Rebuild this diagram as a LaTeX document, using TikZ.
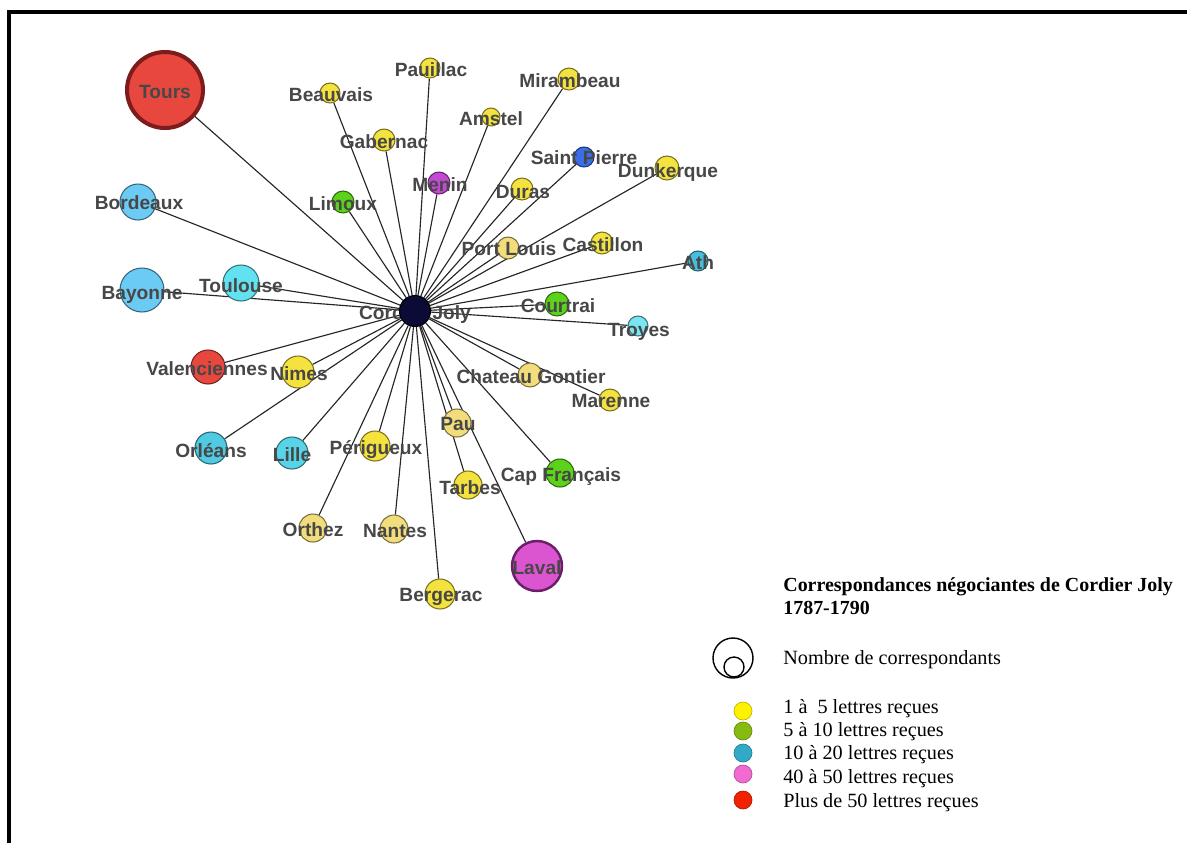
\documentclass[tikz,border=0pt]{standalone}
\usepackage{fontspec}
\setmainfont{Liberation Serif}
\setsansfont{Liberation Sans}
\usetikzlibrary{backgrounds}
\definecolor{cjnavy}{HTML}{0B0B35}
\definecolor{cjyellow}{HTML}{F4E23E}
\definecolor{cjpale}{HTML}{F2DD7C}
\definecolor{cjgreen}{HTML}{5CD21A}
\definecolor{cjblue}{HTML}{3A6EE8}
\definecolor{cjpurple}{HTML}{C24AD2}
\definecolor{cjsky}{HTML}{6CCBF5}
\definecolor{cjcyan}{HTML}{62E2F0}
\definecolor{cjteal}{HTML}{48BEDC}
\definecolor{cjred}{HTML}{E8473E}
\definecolor{cjredline}{HTML}{7C1C1C}
\definecolor{cjmagenta}{HTML}{DC55D0}
\definecolor{cjmagline}{HTML}{6A1F66}
\definecolor{legyellow}{HTML}{FFF200}
\definecolor{leggreen}{HTML}{88BB11}
\definecolor{legteal}{HTML}{33A9C8}
\definecolor{legpink}{HTML}{F06AD0}
\definecolor{legred}{HTML}{F02200}
\tikzset{
  town/.style={circle,draw=#1!50!black,fill=#1,line width=0.6pt,inner sep=0pt},
  townlbl/.style={font=\sffamily\bfseries\fontsize{10.9}{12}\selectfont,text=black!72,inner sep=0pt},
  link/.style={draw=black!85,line width=0.65pt},
  legtxt/.style={font=\fontsize{11.5}{13}\selectfont,anchor=west,inner sep=0pt,align=left},
  legdot/.style={circle,fill=#1,draw=#1!75!black,line width=0.4pt,minimum size=3.6mm,inner sep=0pt},
}

\begin{document}
\begin{tikzpicture}[x=0.02cm,y=-0.02cm]
  \useasboundingbox (0,0) rectangle (1187,843);
  \draw[line width=1.8pt] (9,843) -- (9,12) -- (1187,12);

  % correspondents
  \node[town=cjred,draw=cjredline,line width=2.3pt,minimum size=15.2mm] (tours) at (165,90) {};
  \node[town=cjyellow,minimum size=4mm]   (beauvais)   at (330,93)  {};
  \node[town=cjyellow,minimum size=4mm]   (pauillac)   at (430,68)  {};
  \node[town=cjyellow,minimum size=4.4mm] (mirambeau)  at (569,79)  {};
  \node[town=cjyellow,minimum size=3.6mm] (amstel)     at (491,117) {};
  \node[town=cjyellow,minimum size=4.4mm] (gabernac)   at (384,140) {};
  \node[town=cjblue,minimum size=4mm]     (stpierre)   at (584,157) {};
  \node[town=cjyellow,minimum size=4.8mm] (dunkerque)  at (667,168) {};
  \node[town=cjpurple,minimum size=4.4mm] (menin)      at (439,183) {};
  \node[town=cjgreen,minimum size=4.4mm]  (limoux)     at (343,202) {};
  \node[town=cjyellow,minimum size=4.4mm] (duras)      at (522,189) {};
  \node[town=cjsky,minimum size=7.2mm]    (bordeaux)   at (138,202) {};
  \node[town=cjpale,minimum size=4.4mm]   (portlouis)  at (508,248) {};
  \node[town=cjyellow,minimum size=4.4mm] (castillon)  at (602,243) {};
  \node[town=cjteal,minimum size=4mm]     (ath)        at (698,261) {};
  \node[town=cjcyan,minimum size=7.2mm]   (toulouse)   at (241,283) {};
  \node[town=cjsky,minimum size=8.8mm]    (bayonne)    at (142,290) {};
  \node[town=cjgreen,minimum size=4.8mm]  (courtrai)   at (557,304) {};
  \node[town=cjcyan!85!white,minimum size=4mm] (troyes) at (638,326) {};
  \node[town=cjred,minimum size=6.8mm]    (valenc)     at (208,367) {};
  \node[town=cjyellow,minimum size=6.4mm] (nimes)      at (298,372) {};
  \node[town=cjpale,minimum size=4.8mm]   (chgontier)  at (530,375) {};
  \node[town=cjyellow,minimum size=4.4mm] (marenne)    at (610,400) {};
  \node[town=cjteal!70!cjcyan,minimum size=6.4mm] (orleans) at (211,448) {};
  \node[town=cjteal!40!cjcyan,minimum size=6.4mm] (lille)   at (292,453) {};
  \node[town=cjyellow,minimum size=6mm]   (perigueux)  at (375,446) {};
  \node[town=cjpale,minimum size=5.6mm]   (pau)        at (457,423) {};
  \node[town=cjgreen,minimum size=5.6mm]  (capfr)      at (560,473) {};
  \node[town=cjyellow,minimum size=5.6mm] (tarbes)     at (468,485) {};
  \node[town=cjpale,minimum size=5.6mm]   (orthez)     at (313,528) {};
  \node[town=cjpale,minimum size=5.6mm]   (nantes)     at (394,529) {};
  \node[town=cjmagenta,draw=cjmagline,line width=1.4pt,minimum size=10mm] (laval) at (537,566) {};
  \node[town=cjyellow,minimum size=6mm]   (bergerac)   at (440,594) {};

  % labels
  \node[townlbl] (tours-l)     at (165,92)  {Tours};
  \node[townlbl] (beauvais-l)  at (331,95)  {Beauvais};
  \node[townlbl] (pauillac-l)  at (431,70)  {Pauillac};
  \node[townlbl] (mirambeau-l) at (570,81)  {Mirambeau};
  \node[townlbl] (amstel-l)    at (491,119) {Amstel};
  \node[townlbl] (gabernac-l)  at (384,142) {Gabernac};
  \node[townlbl] (stpierre-l)  at (584,158) {Saint Pierre};
  \node[townlbl] (dunkerque-l) at (668,173) {Dunkerque};
  \node[townlbl] (menin-l)     at (440,185) {Menin};
  \node[townlbl] (limoux-l)    at (343,204) {Limoux};
  \node[townlbl] (duras-l)     at (523,192) {Duras};
  \node[townlbl] (bordeaux-l)  at (139,203) {Bordeaux};
  \node[townlbl] (portlouis-l) at (509,249) {Port Louis};
  \node[townlbl] (castillon-l) at (603,245) {Castillon};
  \node[townlbl] (ath-l)       at (698,263) {Ath};
  \node[townlbl] (toulouse-l)  at (241,286) {Toulouse};
  \node[townlbl] (bayonne-l)   at (142,295) {Bayonne};
  \node[townlbl] (courtrai-l)  at (558,306) {Courtrai};
  \node[townlbl] (troyes-l)    at (639,332) {Troyes};
  \node[townlbl] (valenc-l)    at (207,369) {Valenciennes};
  \node[townlbl] (nimes-l)     at (299,374) {Nimes};
  \node[townlbl] (chgontier-l) at (531,377) {Chateau Gontier};
  \node[townlbl] (marenne-l)   at (611,401) {Marenne};
  \node[townlbl] (orleans-l)   at (211,451) {Orléans};
  \node[townlbl] (lille-l)     at (292,455) {Lille};
  \node[townlbl] (perigueux-l) at (376,449) {Périgueux};
  \node[townlbl] (pau-l)       at (458,424) {Pau};
  \node[townlbl] (capfr-l)     at (561,477) {Cap Français};
  \node[townlbl] (tarbes-l)    at (470,488) {Tarbes};
  \node[townlbl] (orthez-l)    at (313,530) {Orthez};
  \node[townlbl] (nantes-l)    at (395,531) {Nantes};
  \node[townlbl] (laval-l)     at (537,568) {Laval};
  \node[townlbl] (bergerac-l)  at (441,597) {Bergerac};

  % Cordier Joly, the hub
  \node[townlbl] (cj-l) at (415,315) {Cordier Joly};
  \node[town=cjnavy,draw=black,minimum size=6.2mm] (cj) at (415,311) {};

  \begin{pgfonlayer}{background}
    \foreach \t in {tours,beauvais,pauillac,mirambeau,amstel,gabernac,stpierre,
                    dunkerque,menin,limoux,duras,bordeaux,portlouis,castillon,ath,
                    toulouse,bayonne,courtrai,troyes,valenc,nimes,chgontier,marenne,
                    orleans,lille,perigueux,pau,capfr,tarbes,orthez,nantes,laval,bergerac}
      \draw[link] (cj) -- (\t);
  \end{pgfonlayer}

  % legend
  \node[legtxt,font=\bfseries\fontsize{11.35}{13}\selectfont,anchor=north west] (legtitle) at (783,577)
    {Correspondances négociantes de Cordier Joly\\1787-1790};
  \node[circle,draw,line width=0.8pt,minimum size=8mm,inner sep=0pt] (nbouter) at (733,658) {};
  \node[circle,draw,line width=0.8pt,minimum size=4mm,inner sep=0pt] (nbinner) at (734,667) {};
  \node[legtxt] (nb-t) at (783,660) {Nombre de correspondants};

  \node[legdot=legyellow] (d1) at (743,711) {};
  \node[legdot=leggreen]  (d2) at (743,731) {};
  \node[legdot=legteal]   (d3) at (743,753) {};
  \node[legdot=legpink]   (d4) at (743,774) {};
  \node[legdot=legred]    (d5) at (743,800) {};
  \node[legtxt] (t1) at (783,709) {1 à\ \ 5 lettres reçues};
  \node[legtxt] (t2) at (783,732) {5 à 10 lettres reçues};
  \node[legtxt] (t3) at (783,755) {10 à 20 lettres reçues};
  \node[legtxt] (t4) at (783,779) {40 à 50 lettres reçues};
  \node[legtxt] (t5) at (783,803) {Plus de 50 lettres reçues};
\end{tikzpicture}
\end{document}
